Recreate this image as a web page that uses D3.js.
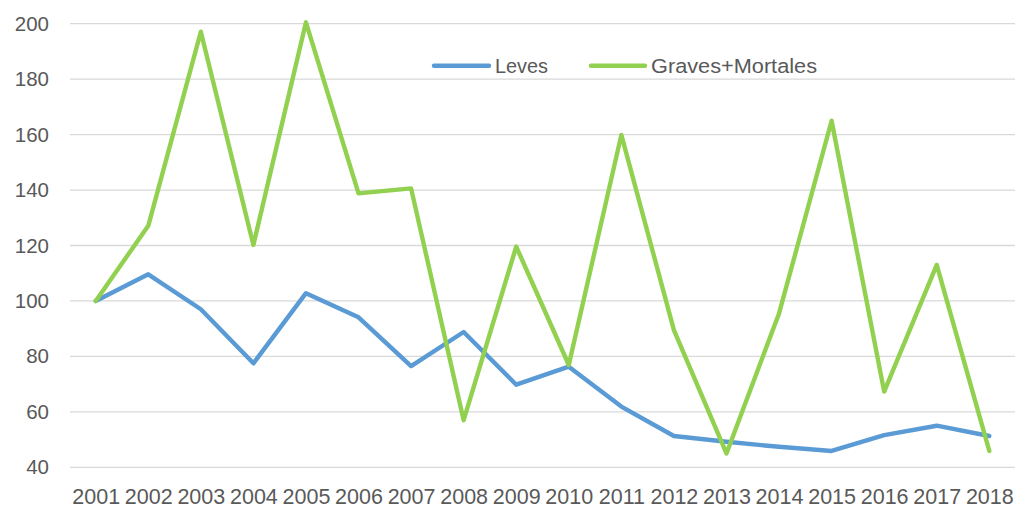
<!DOCTYPE html>
<html>
<head>
<meta charset="utf-8">
<script src="https://cdn.jsdelivr.net/npm/d3@7/dist/d3.min.js"></script>
<style>
  html, body { margin: 0; padding: 0; background: #fff; }
  svg { display: block; }
  text { font-family: "Liberation Sans", Arial, sans-serif; fill: #595959; }
</style>
</head>
<body>
<svg id="chart" width="1017" height="509"></svg>
<script>
const years = ["2001","2002","2003","2004","2005","2006","2007","2008","2009","2010","2011","2012","2013","2014","2015","2016","2017","2018"];
const leves = [100, 109.6, 97, 77.5, 102.8, 94.1, 76.5, 88.8, 69.8, 76.3, 61.9, 51.3, 49.2, 47.4, 45.9, 51.6, 55, 51.3];
const gravesMortales = [100, 127.1, 197.1, 120.2, 200.5, 138.8, 140.6, 57, 119.6, 76.9, 159.9, 89.5, 45, 95.5, 165, 67.3, 113, 45.9];
const yTicks = [40, 60, 80, 100, 120, 140, 160, 180, 200];
const seriesNames = ["Leves", "Graves+Mortales"];
const seriesColors = ["#5B9BD5", "#92D050"];

const svg = d3.select("#chart");
const x = d3.scalePoint().domain(years).range([95.7, 989.3]);
const y = d3.scaleLinear().domain([40, 200]).range([467.3, 23.7]);
const gridLeft = 70, gridRight = 1015;

// gridlines
svg.append("g").selectAll("line").data(yTicks).join("line")
  .attr("x1", gridLeft).attr("x2", gridRight)
  .attr("y1", d => y(d)).attr("y2", d => y(d))
  .attr("stroke", "#d9d9d9").attr("stroke-width", 1.3);

// y axis labels
const yAxis = d3.axisLeft(y).tickValues(yTicks).tickSize(0).tickPadding(0);
const gy = svg.append("g").attr("transform", "translate(49,0)").call(yAxis);
gy.select(".domain").remove();
gy.selectAll("text").attr("font-size", 20.5).attr("fill", "#595959")
  .style("font-family", '"Liberation Sans", Arial, sans-serif');

// x axis labels
const xAxis = d3.axisBottom(x).tickSize(0).tickPadding(0);
const gx = svg.append("g").attr("transform", "translate(0,489)").call(xAxis);
gx.select(".domain").remove();
gx.selectAll("text").attr("font-size", 21.5).attr("fill", "#595959").attr("dy", "0.71em")
  .style("font-family", '"Liberation Sans", Arial, sans-serif');

// lines
const line = d3.line().x((d, i) => x(years[i])).y(d => y(d));
[leves, gravesMortales].forEach((s, k) => {
  svg.append("path").datum(s)
    .attr("d", line)
    .attr("fill", "none")
    .attr("stroke", seriesColors[k])
    .attr("stroke-width", 4.4)
    .attr("stroke-linejoin", "round")
    .attr("stroke-linecap", "round");
});

// legend
const legendItems = [
  {x1: 434, x2: 489, tx: 495, tw: 53},
  {x1: 591, x2: 645, tx: 651, tw: 166}
];
legendItems.forEach((it, k) => {
  svg.append("line").attr("x1", it.x1).attr("x2", it.x2)
    .attr("y1", 65.7).attr("y2", 65.7)
    .attr("stroke", seriesColors[k]).attr("stroke-width", 4.4)
    .attr("stroke-linecap", "round");
  svg.append("text").attr("x", it.tx).attr("y", 73.3)
    .attr("font-size", 20.5)
    .attr("textLength", it.tw).attr("lengthAdjust", "spacingAndGlyphs")
    .text(seriesNames[k]);
});
</script>
</body>
</html>
